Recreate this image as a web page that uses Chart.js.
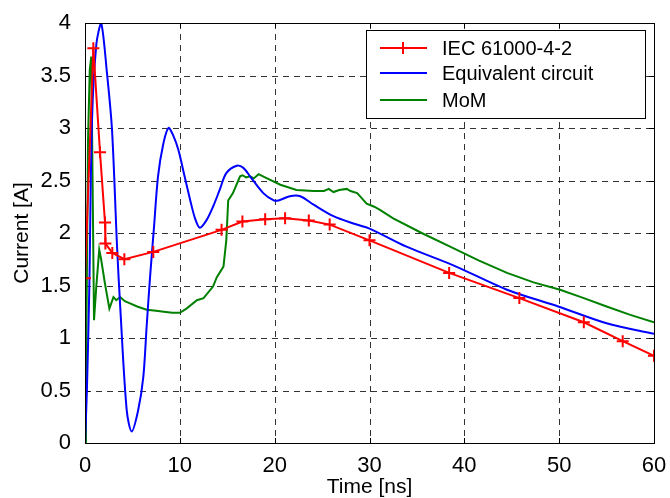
<!DOCTYPE html>
<html>
<head>
<meta charset="utf-8">
<script src="https://cdn.jsdelivr.net/npm/chart.js@4/dist/chart.umd.min.js"></script>
<style>
html,body{margin:0;padding:0;background:#fff;}
#wrap{width:670px;height:498px;position:relative;}
</style>
</head>
<body>
<div id="wrap"><canvas id="c" width="670" height="498"></canvas></div>
<script>
// ---- data ----
const seriesNames = ["IEC 61000-4-2", "Equivalent circuit", "MoM"];
const xTicks = [0, 10, 20, 30, 40, 50, 60];
const yTicks = [0, 0.5, 1, 1.5, 2, 2.5, 3, 3.5, 4];

const iecTime = [0, 0.88, 1.58, 2.11, 2.15, 2.88, 4.15, 7.2, 14.4, 16.6, 19.0, 21.1, 23.6, 25.8, 30.0, 38.4, 45.8, 52.6, 56.7, 60];
const iecCurrent = [1.57, 3.76, 2.77, 2.10, 1.90, 1.81, 1.75, 1.82, 2.03, 2.11, 2.13, 2.14, 2.12, 2.08, 1.93, 1.62, 1.38, 1.15, 0.97, 0.83];

const eqTime = [0, 0.2, 0.45, 0.74, 1.2, 1.7, 2.32, 2.85, 3.38, 3.73, 4.4, 4.92, 5.6, 6.15, 6.5, 6.86, 7.28, 7.7, 8.26, 8.8, 9.3, 9.85, 10.5, 11.1, 11.6, 12.1, 12.8, 13.5, 14.2, 14.9, 16.0, 16.7, 17.4, 18.8, 19.9, 20.4, 21.6, 22.7, 24.1, 26.2, 28.3, 30.06, 33.9, 38.9, 44.5, 49.9, 55.0, 60];
const eqCurrent = [0, 0.5, 1.46, 3.08, 3.8, 4.0, 3.52, 2.98, 1.87, 1.27, 0.31, 0.11, 0.31, 0.63, 1.11, 1.58, 2.06, 2.54, 2.85, 3.0, 2.93, 2.79, 2.54, 2.31, 2.14, 2.05, 2.12, 2.25, 2.41, 2.57, 2.64, 2.62, 2.54, 2.38, 2.31, 2.31, 2.35, 2.35, 2.27, 2.16, 2.09, 2.04, 1.87, 1.69, 1.46, 1.30, 1.14, 1.04];

const momTime = [0, 0.1, 0.2, 0.32, 0.5, 0.66, 0.8, 0.95, 1.2, 1.5, 1.7, 2.1, 2.57, 3.0, 3.3, 3.7, 4.2, 4.75, 5.5, 6.5, 7.5, 8.3, 9.2, 10.0, 10.7, 11.8, 12.5, 13.5, 13.9, 14.6, 14.9, 15.1, 15.6, 16.35, 16.6, 17.0, 17.4, 17.8, 18.3, 19.2, 20.6, 22.3, 24.1, 25.2, 25.7, 26.2, 26.8, 27.6, 28.0, 28.7, 29.2, 29.7, 30.5, 31.1, 32.5, 35.5, 38.5, 41.5, 44.5, 47.3, 50.1, 52.6, 55.0, 57.5, 60];
const momCurrent = [0, 0.6, 1.6, 2.89, 3.55, 3.68, 2.5, 1.17, 1.5, 1.84, 1.75, 1.52, 1.28, 1.39, 1.36, 1.39, 1.35, 1.33, 1.30, 1.27, 1.26, 1.25, 1.24, 1.24, 1.28, 1.36, 1.38, 1.49, 1.58, 1.68, 1.93, 2.31, 2.38, 2.54, 2.55, 2.53, 2.54, 2.52, 2.56, 2.52, 2.46, 2.41, 2.40, 2.40, 2.42, 2.39, 2.41, 2.42, 2.40, 2.38, 2.33, 2.28, 2.25, 2.22, 2.14, 2.0, 1.87, 1.74, 1.62, 1.53, 1.46, 1.38, 1.30, 1.22, 1.15];

const colors = ["#ff0000", "#0000ff", "#008000"];

function pts(xs, ys){ return xs.map((x,i)=>({x:x, y:ys[i]})); }

const FONT = "'Liberation Sans', Arial, sans-serif";
Chart.defaults.font.family = FONT;
Chart.defaults.color = "#000";

const framePlugin = {
  id: 'frame',
  beforeDatasetsDraw(chart){
    const ctx = chart.ctx, ca = chart.chartArea;
    const xs = chart.scales.x, ys = chart.scales.y;
    ctx.save();
    ctx.strokeStyle = 'rgba(0,0,0,0.8)';
    ctx.lineWidth = 1;
    ctx.setLineDash([6,5]);
    xTicks.forEach(v=>{
      const p = Math.round(xs.getPixelForValue(v))+0.5;
      if (p <= ca.left+1 || p >= ca.right-1) return;
      ctx.beginPath(); ctx.moveTo(p, ca.top); ctx.lineTo(p, ca.bottom); ctx.stroke();
    });
    yTicks.forEach(v=>{
      const p = Math.round(ys.getPixelForValue(v))+0.5;
      if (p <= ca.top+1 || p >= ca.bottom-1) return;
      ctx.beginPath(); ctx.moveTo(ca.left, p); ctx.lineTo(ca.right, p); ctx.stroke();
    });
    ctx.setLineDash([]);
    ctx.strokeStyle = '#000';
    const tl = 5;
    xTicks.forEach(v=>{
      const p = Math.round(xs.getPixelForValue(v))+0.5;
      ctx.beginPath(); ctx.moveTo(p, ca.bottom); ctx.lineTo(p, ca.bottom-tl);
      ctx.moveTo(p, ca.top); ctx.lineTo(p, ca.top+tl); ctx.stroke();
    });
    yTicks.forEach(v=>{
      const p = Math.round(ys.getPixelForValue(v))+0.5;
      ctx.beginPath(); ctx.moveTo(ca.left, p); ctx.lineTo(ca.left+tl, p);
      ctx.moveTo(ca.right, p); ctx.lineTo(ca.right-tl, p); ctx.stroke();
    });
    ctx.restore();
  },
  afterDraw(chart){
    const ctx = chart.ctx, ca = chart.chartArea;
    ctx.save();
    ctx.strokeStyle = '#000';
    ctx.lineWidth = 1;
    ctx.strokeRect(Math.round(ca.left)+0.5, Math.round(ca.top)+0.5, Math.round(ca.right-ca.left), Math.round(ca.bottom-ca.top));
    // legend
    const x0 = Math.round(ca.right) - 288, y0 = Math.round(ca.top) + 7, w = 279, h = 88;
    ctx.fillStyle = '#fff';
    ctx.fillRect(x0, y0, w, h);
    ctx.strokeRect(x0+0.5, y0+0.5, w, h);
    const rows = [18, 43, 70];
    ctx.font = "20px " + FONT;
    ctx.textBaseline = 'middle';
    ctx.textAlign = 'left';
    seriesNames.forEach((name,i)=>{
      const yy = y0 + rows[i];
      ctx.strokeStyle = colors[i];
      ctx.lineWidth = 2;
      ctx.beginPath(); ctx.moveTo(x0+14, yy); ctx.lineTo(x0+61, yy); ctx.stroke();
      if (i === 0){
        const cx = x0+37;
        ctx.beginPath(); ctx.moveTo(cx-6, yy); ctx.lineTo(cx+6, yy);
        ctx.moveTo(cx, yy-6); ctx.lineTo(cx, yy+6); ctx.stroke();
      }
      ctx.fillStyle = '#000';
      ctx.fillText(name, x0+76, yy+1);
    });
    ctx.restore();
  }
};

new Chart(document.getElementById('c'), {
  type: 'scatter',
  data: {
    datasets: [
      { label: seriesNames[0], data: pts(iecTime, iecCurrent), showLine: true, borderColor: colors[0], backgroundColor: colors[0], borderWidth: 2, pointStyle: 'cross', pointRadius: 6, pointBorderWidth: 2, pointHoverRadius: 6, tension: 0, order: 1 },
      { label: seriesNames[1], data: pts(eqTime, eqCurrent), showLine: true, borderColor: colors[1], backgroundColor: colors[1], borderWidth: 2, pointRadius: 0, tension: 0.3, order: 2 },
      { label: seriesNames[2], data: pts(momTime, momCurrent), showLine: true, borderColor: colors[2], backgroundColor: colors[2], borderWidth: 2, pointRadius: 0, tension: 0, order: 3 }
    ]
  },
  options: {
    responsive: false,
    animation: false,
    layout: { padding: { top: 23, right: 16, left: 10, bottom: 0 } },
    plugins: { legend: { display: false }, tooltip: { enabled: false } },
    scales: {
      x: {
        type: 'linear', min: 0, max: 60,
        afterBuildTicks(s){ s.ticks = xTicks.map(v=>({value:v})); },
        afterFit(s){ s.height = 55; },
        grid: { display: false },
        border: { display: false },
        ticks: { font: { size: 22 }, color: '#000', padding: 2, maxRotation: 0 },
        title: { display: true, text: 'Time [ns]', font: { size: 21, lineHeight: 1 }, color: '#000', padding: { top: 0, bottom: 0 } }
      },
      y: {
        type: 'linear', min: 0, max: 4,
        afterBuildTicks(s){ s.ticks = yTicks.map(v=>({value:v})); },
        afterFit(s){ s.width = 75; },
        grid: { display: false },
        border: { display: false },
        ticks: { font: { size: 22 }, color: '#000', padding: 6, callback: v => String(v) },
        title: { display: true, text: 'Current [A]', font: { size: 21 }, color: '#000', padding: { top: 0, bottom: 0 } }
      }
    }
  },
  plugins: [framePlugin]
});
</script>
</body>
</html>
